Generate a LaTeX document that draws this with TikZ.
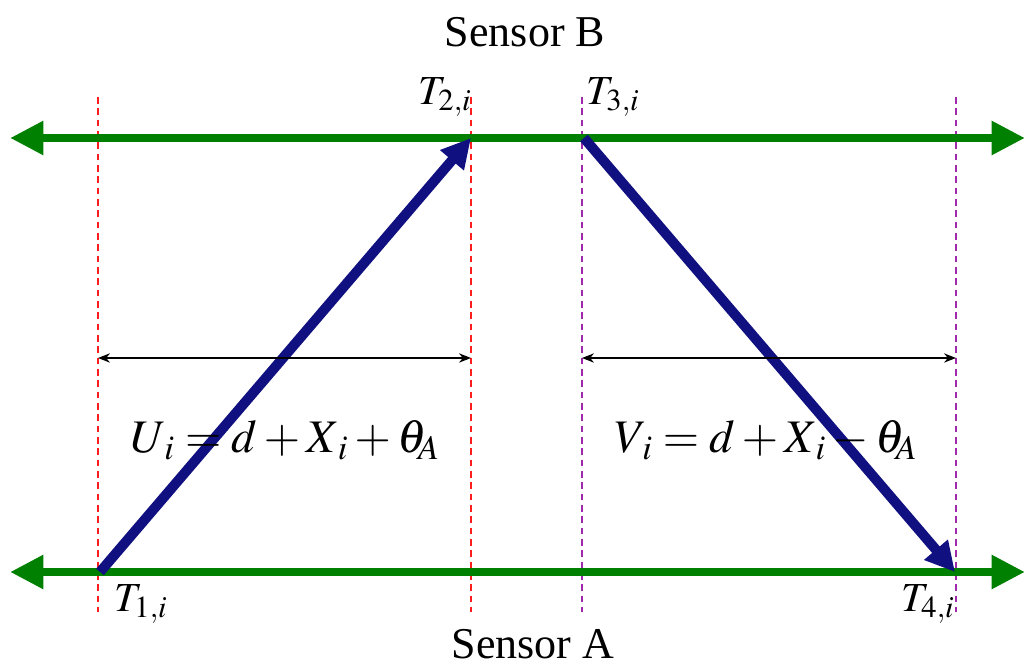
\documentclass[tikz,border=0pt]{standalone}
\usepackage{mathptmx}
\usepackage{fontspec}
\setmainfont{Liberation Serif}
\usetikzlibrary{arrows.meta}
\definecolor{sgreen}{RGB}{0,128,0}
\definecolor{snavy}{RGB}{16,16,128}
\definecolor{sred}{RGB}{255,30,30}
\definecolor{spurple}{RGB}{160,40,170}
\tikzset{
  sensorline/.style={draw=sgreen, line width=6.5pt, {Triangle[length=25pt,width=24pt]}-{Triangle[length=25pt,width=24pt]}},
  msg/.style={draw=snavy, line width=7.5pt, -{Triangle[length=22pt,width=22pt]}},
  redguide/.style={draw=sred, line width=1.2pt, dash pattern=on 5pt off 3.5pt},
  purpleguide/.style={draw=spurple, line width=1.2pt, dash pattern=on 5pt off 3.5pt},
  span/.style={draw=black, line width=1pt, {Stealth[length=9pt,width=7pt]}-{Stealth[length=9pt,width=7pt]}},
  title/.style={font=\fontsize{33}{38}\selectfont, inner sep=0pt},
  tlabel/.style={font=\fontsize{31}{36}\selectfont, inner sep=0pt},
  eqn/.style={font=\fontsize{35}{40}\selectfont, inner sep=0pt}
}
\begin{document}
\begin{tikzpicture}[x=0.75pt,y=-0.75pt]
\useasboundingbox (0,0) rectangle (1026,666);
% guide coordinates
\coordinate (r1t) at (98,97);   \coordinate (r1b) at (98,612);
\coordinate (r2t) at (471,97);  \coordinate (r2b) at (471,612);
\coordinate (p1t) at (582,97);  \coordinate (p1b) at (582,612);
\coordinate (p2t) at (956,97);  \coordinate (p2b) at (956,612);
\coordinate (BL) at (10,138);   \coordinate (BR) at (1025,138);
\coordinate (AL) at (10,572);   \coordinate (AR) at (1025,572);
\coordinate (T1) at (100,572);  \coordinate (T2) at (471,138);
\coordinate (T3) at (584,138);  \coordinate (T4) at (955,572);
\coordinate (u1) at (98,358);   \coordinate (u2) at (471,358);
\coordinate (v1) at (582,358);  \coordinate (v2) at (956,358);
% dashed guides
\draw[redguide] (r1t) -- (r1b);
\draw[redguide] (r2t) -- (r2b);
\draw[purpleguide] (p1t) -- (p1b);
\draw[purpleguide] (p2t) -- (p2b);
% sensor lines
\draw[sensorline] (BL) -- (BR);
\draw[sensorline] (AL) -- (AR);
% messages
\draw[msg] (T1) -- (T2);
\draw[msg] (T3) -- (T4);
% spans
\draw[span] (u1) -- (u2);
\draw[span] (v1) -- (v2);
% texts
\node[title] (sb) at (525,32) {Sensor B};
\node[title] (sa) at (533,644) {Sensor A};
\node[tlabel] (l2) at (445,97) {$T_{2,i}$};
\node[tlabel] (l3) at (613,97) {$T_{3,i}$};
\node[tlabel] (l1) at (141,604) {$T_{1,i}$};
\node[tlabel] (l4) at (928,604) {$T_{4,i}$};
\node[eqn] (ue) at (285,440) {$U_{\,i} = d + X_{\,i} + \theta_{\!A}$};
\node[eqn] (ve) at (766,440) {$V_{\,i} = d + X_{\,i} - \theta_{\!A}$};
\end{tikzpicture}
\end{document}
